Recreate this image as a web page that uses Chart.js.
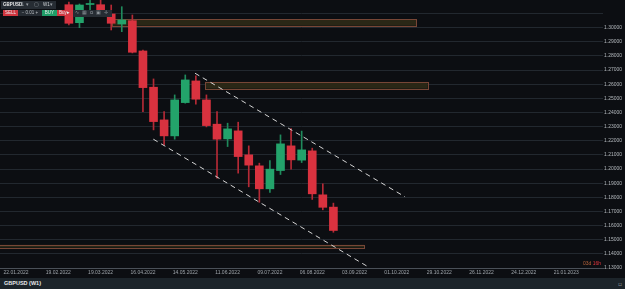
<!DOCTYPE html>
<html><head><meta charset="utf-8">
<script src="https://cdn.jsdelivr.net/npm/chart.js@4.4.1/dist/chart.umd.min.js"></script>
<style>
html,body{margin:0;padding:0;background:#0c0e12;width:625px;height:289px;overflow:hidden;font-family:"Liberation Sans",Arial,sans-serif;}
#wrap{position:absolute;left:0;top:0;width:625px;height:278px;}
#bottom{position:absolute;left:0;top:278px;width:625px;height:11px;background:#1c242a;}
#bottom .t{position:absolute;left:4px;top:2px;font:bold 5.5px "Liberation Sans",Arial,sans-serif;color:#e6e8ea;}
#bottom .i{position:absolute;left:618px;top:2px;font:6px "DejaVu Sans",sans-serif;color:#8a9096;}
.a{position:absolute;font:4.5px "Liberation Sans",Arial,sans-serif;color:#e8e8e8;line-height:6px;text-align:center;white-space:nowrap;}
#cd{position:absolute;left:583px;top:260px;font:5px "Liberation Sans",Arial,sans-serif;white-space:nowrap;}
</style></head><body>
<div id="wrap"><canvas id="c" width="625" height="278"></canvas></div>
<div id="bottom"><span class="t">GBPUSD (W1)</span><span class="i">▫</span></div>

<div class="a" style="left:1px;top:1px;width:55px;height:8px;background:#262c33;"></div>
<div class="a" style="left:3px;top:2px;font-weight:bold;">GBPUSD</div>
<div class="a" style="left:20px;top:2px;color:#9aa0a6;">⇅</div>
<div class="a" style="left:26px;top:2px;color:#9aa0a6;">▾</div>
<div class="a" style="left:34px;top:2px;color:#9aa0a6;">▢</div>
<div class="a" style="left:43px;top:2px;color:#cfd3d6;">W1</div>
<div class="a" style="left:50px;top:2px;color:#9aa0a6;">▾</div>

<div class="a" style="left:3px;top:10px;width:15px;height:6px;background:#d03640;">SELL</div>
<div class="a" style="left:18px;top:10px;width:24px;height:6px;background:#262c33;color:#b8bcc0;">− 0.01 +</div>
<div class="a" style="left:42px;top:10px;width:15px;height:6px;background:#1f9d68;">BUY</div>
<div class="a" style="left:57px;top:10px;width:15px;height:6px;background:#d03640;">Buy▸</div>
<div class="a" style="left:73px;top:10px;width:39px;height:7px;background:#262c33;color:#8d949a;letter-spacing:3px;">∿▦⧉▣✛</div>

<div id="cd"><span style="color:#b8643a">03d</span> <span style="color:#e0353d">16h</span></div>

<script>
// ---- x tick labels (every 4 weeks) ----
const tickLabels = ['22.01.2022','19.02.2022','19.03.2022','16.04.2022','14.05.2022','11.06.2022','09.07.2022','06.08.2022','03.09.2022','01.10.2022','29.10.2022','26.11.2022','24.12.2022','21.01.2023'];

// ---- weekly candles ----
const candleDates = ['26.02.2022','05.03.2022','12.03.2022','19.03.2022','26.03.2022','02.04.2022','09.04.2022','16.04.2022','23.04.2022','30.04.2022','07.05.2022','14.05.2022','21.05.2022','28.05.2022','04.06.2022','11.06.2022','18.06.2022','25.06.2022','02.07.2022','09.07.2022','16.07.2022','23.07.2022','30.07.2022','06.08.2022','13.08.2022','20.08.2022'];
const openP  = [1.31625,1.30353,1.31640,1.31625,1.30968,1.30261,1.30495,1.28353,1.25788,1.23477,1.22346,1.24700,1.26233,1.24890,1.23173,1.22134,1.22700,1.21004,1.20226,1.18601,1.19894,1.21640,1.20629,1.21286,1.18177,1.17307];
const highP  = [1.31816,1.31675,1.32500,1.32600,1.31604,1.31484,1.30898,1.28424,1.26375,1.24064,1.25244,1.26657,1.26587,1.25244,1.24064,1.23244,1.23315,1.21640,1.20417,1.20601,1.22417,1.22855,1.22686,1.21477,1.18954,1.17590];
const lowP   = [1.30191,1.30000,1.30898,1.30862,1.29837,1.29717,1.28212,1.24064,1.22770,1.21710,1.22113,1.24657,1.24587,1.22982,1.19357,1.21590,1.19710,1.18742,1.17647,1.18339,1.19611,1.19993,1.20459,1.17852,1.17117,1.15527];
const closeP = [1.30311,1.31604,1.31710,1.31004,1.30311,1.30544,1.28261,1.25760,1.23357,1.22346,1.24890,1.26304,1.24940,1.23074,1.22113,1.22841,1.20883,1.20276,1.18601,1.19993,1.21781,1.20650,1.21357,1.18247,1.17293,1.15654];

// ---- y ticks ----
const yTickValues = [1.13,1.14,1.15,1.16,1.17,1.18,1.19,1.20,1.21,1.22,1.23,1.24,1.25,1.26,1.27,1.28,1.29,1.30,1.31];
const yTickLabels = ['1.13000','1.14000','1.15000','1.16000','1.17000','1.18000','1.19000','1.20000','1.21000','1.22000','1.23000','1.24000','1.25000','1.26000','1.27000','1.28000','1.29000','1.30000'];

// ---- channel lines (week index, price) ----
const upperWeeks = [16.92, 36.77];
const upperPrices = [1.26777, 1.18035];
const lowerWeeks = [12.98, 33.27];
const lowerPrices = [1.22113, 1.13088];

// ---- zones (week index range, price range) ----
const zoneStart = [9.1, 17.86, -3];
const zoneEnd   = [37.87, 38.91, 32.89];
const zoneTop   = [1.30615, 1.26163, 1.14643];
const zoneBot   = [1.30141, 1.25689, 1.14452];

const X_MIN = -1.51, X_MAX = 55.48, Y_MIN = 1.13, Y_MAX = 1.31958;

function weekIndex(s){
  const [d,m,y] = s.split('.').map(Number);
  const [d0,m0,y0] = tickLabels[0].split('.').map(Number);
  return (Date.UTC(y,m-1,d) - Date.UTC(y0,m0-1,d0)) / (7*864e5);
}

const RED = '#d9323f', GREEN = '#23a36b';
const RED_W = '#b52a36', GREEN_W = '#1f8a5c';
const isUp = openP.map((o,i)=> closeP[i] >= o);

const wickData = candleDates.map((d,i)=>({x: weekIndex(d), y:[lowP[i], highP[i]]}));
const bodyData = candleDates.map((d,i)=>({x: weekIndex(d), y:[openP[i], closeP[i]]}));

const zonePlugin = {
  id: 'zones',
  beforeDatasetsDraw(chart){
    const {ctx, chartArea: a, scales: {x, y}} = chart;
    ctx.save();
    ctx.beginPath(); ctx.rect(a.left, a.top, a.right-a.left, a.bottom-a.top); ctx.clip();
    for (let i=0;i<zoneStart.length;i++){
      const x1 = x.getPixelForValue(zoneStart[i]), x2 = x.getPixelForValue(zoneEnd[i]);
      const y1 = y.getPixelForValue(zoneTop[i]), y2 = y.getPixelForValue(zoneBot[i]);
      ctx.fillStyle = '#2a2716';
      ctx.fillRect(x1, y1, x2-x1, y2-y1);
      ctx.strokeStyle = '#774636';
      ctx.lineWidth = 1;
      ctx.strokeRect(Math.round(x1)+0.5, Math.round(y1)+0.5, Math.round(x2-x1), Math.round(y2-y1));
    }
    ctx.restore();
  }
};

new Chart(document.getElementById('c'), {
  type: 'bar',
  data: {
    datasets: [
      {type:'line', data:[{x:upperWeeks[0],y:upperPrices[0]},{x:upperWeeks[1],y:upperPrices[1]}], borderColor:'#d4d4d4', borderWidth:1, borderDash:[5,4], pointRadius:0, fill:false, clip:0, order:0},
      {type:'line', data:[{x:lowerWeeks[0],y:lowerPrices[0]},{x:lowerWeeks[1],y:lowerPrices[1]}], borderColor:'#d4d4d4', borderWidth:1, borderDash:[5,4], pointRadius:0, fill:false, clip:0, order:0},
      {data: bodyData, backgroundColor: isUp.map(u=>u?GREEN:RED), barThickness: 8, grouped:false, borderWidth:0, borderSkipped:false, clip:0, order:1},
      {data: wickData, backgroundColor: isUp.map(u=>u?GREEN_W:RED_W), barThickness: 1, grouped:false, borderWidth:0, borderSkipped:false, clip:0, order:2}
    ]
  },
  options: {
    responsive:false, animation:false, devicePixelRatio:1,
    layout:{padding:0},
    plugins:{legend:{display:false}, tooltip:{enabled:false}},
    scales:{
      x:{
        type:'linear', min:X_MIN, max:X_MAX, offset:false,
        grid:{display:false, offset:false, drawTicks:false},
        border:{display:true, color:'#4a5058', width:1},
        afterBuildTicks(s){ s.ticks = tickLabels.map(t=>({value: weekIndex(t)})); },
        ticks:{autoSkip:false, maxRotation:0, padding:2, color:'#9ea4aa', font:{size:5, family:'"Liberation Sans", Arial, sans-serif'},
          callback(v, i){ return tickLabels[i]; }},
        afterFit(s){ s.height = 10; s.paddingLeft = 0; s.paddingRight = 0; }
      },
      y:{
        type:'linear', position:'right', min:Y_MIN, max:Y_MAX, beginAtZero:false,
        grid:{color:'#22282f', lineWidth:1, drawTicks:false},
        border:{display:false},
        afterBuildTicks(s){ s.ticks = yTickValues.map(v=>({value:v})); },
        ticks:{padding:1, color:'#b4b9be', font:{size:5, family:'"Liberation Sans", Arial, sans-serif'},
          callback(v){ const l = yTickLabels.find(t=>Math.abs(parseFloat(t)-v)<1e-7); return l || ''; }},
        afterFit(s){ s.width = 22; s.paddingTop = 0; s.paddingBottom = 0; }
      }
    }
  },
  plugins:[zonePlugin]
});
</script>
</body></html>
